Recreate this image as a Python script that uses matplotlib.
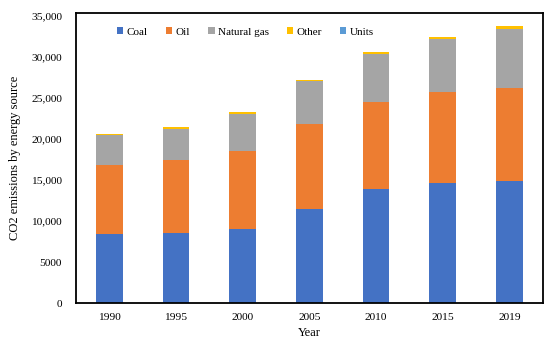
import numpy as np
import matplotlib.pyplot as plt

plt.rcParams['font.family'] = ['Liberation Serif', 'DejaVu Serif']

years = ['1990', '1995', '2000', '2005', '2010', '2015', '2019']
coal = [8400, 8500, 9000, 11500, 13900, 14700, 14900]
oil = [8500, 8900, 9600, 10300, 10600, 11100, 11300]
gas = [3600, 3900, 4450, 5270, 5950, 6400, 7200]
other = [150, 200, 250, 150, 200, 300, 400]
units = [0, 0, 0, 0, 0, 0, 0]

yticks = [0, 5000, 10000, 15000, 20000, 25000, 30000, 35000]
ytick_labels = ['0', '5000', '10,000', '15,000', '20,000', '25,000', '30,000', '35,000']

series = [('Coal', coal, '#4472C4'), ('Oil', oil, '#ED7D31'),
          ('Natural gas', gas, '#A5A5A5'), ('Other', other, '#FFC000'),
          ('Units', units, '#5B9BD5')]

fig = plt.figure(figsize=(5.5, 3.42), dpi=100)
ax = fig.add_axes([0.138, 0.114, 0.849, 0.848])

x = np.arange(len(years))
bottom = np.zeros(len(years))
for name, vals, col in series:
    ax.bar(x, vals, 0.4, bottom=bottom, color=col, label=name)
    bottom += np.array(vals)

ax.set_xlim(-0.5, len(years) - 0.5)
ax.set_ylim(0, 35400)
ax.set_xticks(x)
ax.set_xticklabels(years, fontsize=8.2)
ax.set_yticks(yticks)
ax.set_yticklabels(ytick_labels, fontsize=8.2)
ax.tick_params(length=0, pad=10)
ax.tick_params(axis='x', pad=7)

for s in ax.spines.values():
    s.set_linewidth(1.3)
    s.set_color('black')

ax.set_xlabel('Year', fontsize=9, labelpad=4)
ax.set_ylabel('CO2 emissions by energy source', fontsize=9, labelpad=7)

ax.legend(loc='upper left', bbox_to_anchor=(0.066, 0.985), ncol=5, frameon=False,
          fontsize=8, handlelength=0.6, handleheight=0.6, handletextpad=0.3,
          columnspacing=1.6)

fig.savefig('out.png', dpi=100)
